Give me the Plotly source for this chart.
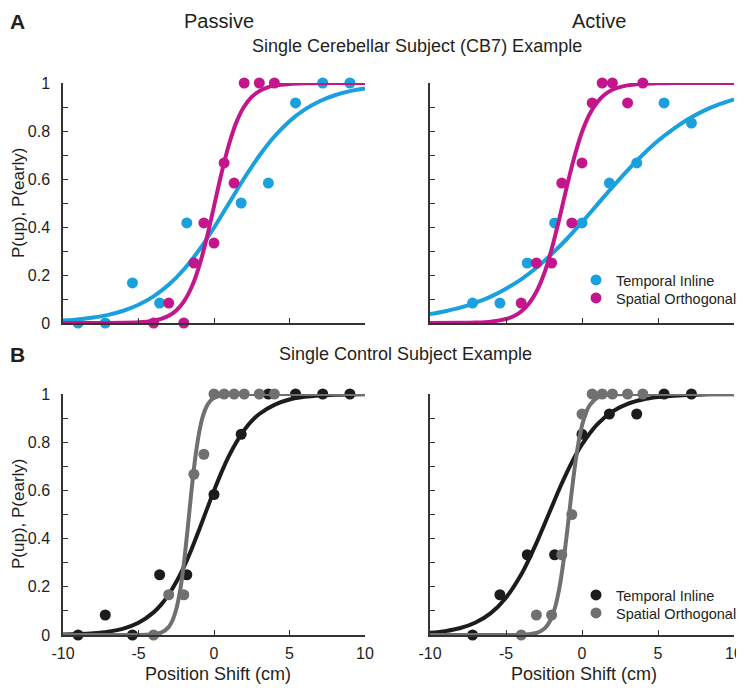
import plotly.graph_objects as go

FONT = "Liberation Sans, Arial, sans-serif"
TXT = "#231f20"
AX = "#333333"
BLUE = "#1aa0dc"
MAGENTA = "#c4168c"
BLACK = "#1c1c1c"
GRAY = "#707070"

# ---------------- data points (proportions) ----------------
cb_passive_temporal_x = [-9, -7.2, -5.4, -3.6, -1.8, 1.8, 3.6, 5.4, 7.2, 9]
cb_passive_temporal_y = [0, 0, 0.167, 0.083, 0.417, 0.5, 0.583, 0.917, 1, 1]
cb_passive_spatial_x = [-4, -3, -2, -1.33, -0.67, 0, 0.67, 1.33, 2, 3, 4]
cb_passive_spatial_y = [0, 0.083, 0, 0.25, 0.417, 0.333, 0.667, 0.583, 1, 1, 1]

cb_active_temporal_x = [-7.2, -5.4, -3.6, -1.8, 0, 1.8, 3.6, 5.4, 7.2]
cb_active_temporal_y = [0.083, 0.083, 0.25, 0.417, 0.417, 0.583, 0.667, 0.917, 0.833]
cb_active_spatial_x = [-4, -3, -2, -1.33, -0.67, 0, 0.67, 1.33, 2, 3, 4]
cb_active_spatial_y = [0.083, 0.25, 0.25, 0.583, 0.417, 0.667, 0.917, 1, 1, 0.917, 1]

ctl_passive_temporal_x = [-9, -7.2, -5.4, -3.6, -1.8, 0, 1.8, 3.6, 5.4, 7.2, 9]
ctl_passive_temporal_y = [0, 0.083, 0, 0.25, 0.25, 0.583, 0.833, 1, 1, 1, 1]
ctl_passive_spatial_x = [-4, -3, -2, -1.33, -0.67, 0, 0.67, 1.33, 2, 3, 4]
ctl_passive_spatial_y = [0, 0.167, 0.167, 0.667, 0.75, 1, 1, 1, 1, 1, 1]

ctl_active_temporal_x = [-7.2, -5.4, -3.6, -1.8, 0, 1.8, 3.6, 5.4, 7.2]
ctl_active_temporal_y = [0, 0.167, 0.333, 0.333, 0.833, 0.917, 0.917, 1, 1]
ctl_active_spatial_x = [-4, -3, -2, -1.33, -0.67, 0, 0.67, 1.33, 2, 3, 4]
ctl_active_spatial_y = [0, 0.083, 0.083, 0.333, 0.5, 0.917, 1, 1, 1, 1, 1]

# ---------------- fitted psychometric curves ----------------
cb_passive_temporal_fit_x = [-10, -9, -8, -7, -6, -5, -4, -3, -2, -1, 0, 1, 2, 3, 4, 5, 6, 7, 8, 9, 10]
cb_passive_temporal_fit_y = [0.010, 0.015, 0.023, 0.034, 0.051, 0.076, 0.111, 0.159, 0.223, 0.303, 0.397,
                             0.5, 0.603, 0.697, 0.777, 0.841, 0.889, 0.924, 0.949, 0.966, 0.977]
cb_passive_spatial_fit_x = [-10, -8, -6, -5, -4, -3.5, -3, -2.5, -2, -1.5, -1, -0.5, 0, 0.5, 1, 1.5, 2,
                            2.5, 3, 3.5, 4, 5, 6, 8, 10]
cb_passive_spatial_fit_y = [0.0, 0.0001, 0.001, 0.003, 0.010, 0.017, 0.030, 0.052, 0.089, 0.147, 0.233,
                            0.349, 0.486, 0.625, 0.746, 0.839, 0.902, 0.942, 0.966, 0.981, 0.989,
                            0.996, 0.9988, 0.9999, 1.0]

cb_active_temporal_fit_x = [-10, -9, -8, -7, -6, -5, -4, -3, -2, -1, 0, 1, 2, 3, 4, 5, 6, 7, 8, 9, 10]
cb_active_temporal_fit_y = [0.037, 0.049, 0.064, 0.085, 0.110, 0.143, 0.182, 0.230, 0.287, 0.350, 0.420,
                            0.493, 0.566, 0.636, 0.701, 0.759, 0.808, 0.850, 0.884, 0.911, 0.932]
cb_active_spatial_fit_x = [-10, -8, -7, -6, -5, -4.5, -4, -3.5, -3, -2.5, -2, -1.5, -1, -0.5, 0, 0.5, 1,
                           1.5, 2, 2.5, 3, 4, 5, 6, 8, 10]
cb_active_spatial_fit_y = [0.0001, 0.0006, 0.0019, 0.0057, 0.0167, 0.028, 0.048, 0.080, 0.130, 0.204,
                           0.307, 0.432, 0.568, 0.693, 0.796, 0.870, 0.920, 0.952, 0.972, 0.983,
                           0.990, 0.9967, 0.9989, 0.9996, 1.0, 1.0]

ctl_passive_temporal_fit_x = [-10, -9, -8, -7, -6, -5, -4, -3.5, -3, -2.5, -2, -1.5, -1, -0.5, 0, 0.5, 1,
                              1.5, 2, 2.5, 3, 4, 5, 6, 7, 8, 9, 10]
ctl_passive_temporal_fit_y = [0.0019, 0.0037, 0.0071, 0.0138, 0.0266, 0.0505, 0.094, 0.126, 0.168, 0.220,
                              0.282, 0.354, 0.434, 0.517, 0.599, 0.676, 0.744, 0.802, 0.850, 0.888,
                              0.917, 0.955, 0.977, 0.988, 0.994, 0.997, 0.9983, 0.9991]
ctl_passive_spatial_fit_x = [-10, -8, -6, -5, -4.5, -4, -3.5, -3, -2.75, -2.5, -2.25, -2, -1.75, -1.5,
                             -1.25, -1, -0.75, -0.5, -0.25, 0, 0.5, 1, 1.5, 2, 3, 4, 6, 8, 10]
ctl_passive_spatial_fit_y = [0.0, 0.0, 0.0, 0.0002, 0.0008, 0.0028, 0.0097, 0.033, 0.060, 0.107, 0.182,
                             0.294, 0.438, 0.593, 0.731, 0.835, 0.905, 0.947, 0.971, 0.984, 0.995,
                             0.9987, 0.9996, 1.0, 1.0, 1.0, 1.0, 1.0, 1.0]

ctl_active_temporal_fit_x = [-10, -9, -8, -7, -6, -5, -4, -3.5, -3, -2.5, -2, -1.5, -1, -0.5, 0, 1, 2, 3,
                             4, 5, 6, 7, 8, 9, 10]
ctl_active_temporal_fit_y = [0.0088, 0.016, 0.029, 0.052, 0.091, 0.155, 0.251, 0.313, 0.381, 0.455, 0.530,
                             0.605, 0.674, 0.737, 0.791, 0.874, 0.927, 0.959, 0.977, 0.987, 0.993,
                             0.996, 0.998, 0.9989, 0.9994]
ctl_active_spatial_fit_x = [-10, -8, -6, -5, -4.5, -4, -3.5, -3, -2.5, -2.25, -2, -1.75, -1.5, -1.25, -1,
                            -0.75, -0.5, -0.25, 0, 0.25, 0.5, 1, 1.5, 2, 3, 4, 6, 8, 10]
ctl_active_spatial_fit_y = [0.0, 0.0, 0.0, 0.0001, 0.0003, 0.0009, 0.0028, 0.0083, 0.025, 0.043, 0.072,
                            0.119, 0.191, 0.291, 0.417, 0.555, 0.685, 0.791, 0.869, 0.920, 0.953,
                            0.984, 0.995, 0.9982, 0.9998, 1.0, 1.0, 1.0, 1.0]

x_tick_vals = [-10, -5, 0, 5, 10]
x_tick_text = ["-10", "-5", "0", "5", "10"]
y_tick_vals = [0, 0.1, 0.2, 0.3, 0.4, 0.5, 0.6, 0.7, 0.8, 0.9, 1.0]
y_tick_text = ["0", "", "0.2", "", "0.4", "", "0.6", "", "0.8", "", "1"]

legend_names = ["Temporal Inline", "Spatial Orthogonal"]

# ---------------- figure ----------------
fig = go.Figure()
MS = 11
LW = 4


def add_panel(xa, ya, fits, points, colors, legends=None):
    legends = legends or [None, None]
    for (fx, fy), (px, py), col, name, lg in zip(fits, points, colors, legend_names, legends):
        fig.add_trace(go.Scatter(x=fx, y=fy, mode="lines", line=dict(color=col, width=LW, shape="spline",
                                 smoothing=0.8), xaxis=xa, yaxis=ya, showlegend=False, cliponaxis=False,
                                 hoverinfo="skip"))
        kw = dict(legend=lg) if lg else {}
        fig.add_trace(go.Scatter(x=px, y=py, mode="markers", marker=dict(color=col, size=MS), name=name,
                                 xaxis=xa, yaxis=ya, showlegend=lg is not None, cliponaxis=False, **kw))


add_panel("x", "y",
          [(cb_passive_temporal_fit_x, cb_passive_temporal_fit_y), (cb_passive_spatial_fit_x, cb_passive_spatial_fit_y)],
          [(cb_passive_temporal_x, cb_passive_temporal_y), (cb_passive_spatial_x, cb_passive_spatial_y)],
          [BLUE, MAGENTA])
add_panel("x2", "y2",
          [(cb_active_temporal_fit_x, cb_active_temporal_fit_y), (cb_active_spatial_fit_x, cb_active_spatial_fit_y)],
          [(cb_active_temporal_x, cb_active_temporal_y), (cb_active_spatial_x, cb_active_spatial_y)],
          [BLUE, MAGENTA], legends=["legend", "legend2"])
add_panel("x3", "y3",
          [(ctl_passive_temporal_fit_x, ctl_passive_temporal_fit_y), (ctl_passive_spatial_fit_x, ctl_passive_spatial_fit_y)],
          [(ctl_passive_temporal_x, ctl_passive_temporal_y), (ctl_passive_spatial_x, ctl_passive_spatial_y)],
          [BLACK, GRAY])
add_panel("x4", "y4",
          [(ctl_active_temporal_fit_x, ctl_active_temporal_fit_y), (ctl_active_spatial_fit_x, ctl_active_spatial_fit_y)],
          [(ctl_active_temporal_x, ctl_active_temporal_y), (ctl_active_spatial_x, ctl_active_spatial_y)],
          [BLACK, GRAY], legends=["legend3", "legend4"])

# the page body has an 8px margin, so the figure is drawn 8px in from the window corner
OFF = 8
W, H = 744 - OFF, 688 - OFF


def px2x(p):
    return (p - OFF) / W


def px2y(p):
    return 1 - (p - OFF) / H


common = dict(showline=True, linecolor=AX, linewidth=1.5, ticks="inside", ticklen=5, tickwidth=1.2,
              tickcolor=AX, showgrid=False, zeroline=False, tickfont=dict(family=FONT, size=16, color=TXT),
              fixedrange=True, automargin=False)

left_dom = [px2x(63), px2x(365)]
right_dom = [px2x(430), px2x(734)]
top_dom = [px2y(323), px2y(83)]
bot_dom = [px2y(635), px2y(394)]

for i, (xd, yd, xl, yl) in enumerate([(left_dom, top_dom, False, True), (right_dom, top_dom, False, False),
                                      (left_dom, bot_dom, True, True), (right_dom, bot_dom, True, False)]):
    sfx = "" if i == 0 else str(i + 1)
    fig.layout["xaxis" + sfx] = dict(domain=xd, range=[-10, 10], tickvals=x_tick_vals, ticktext=x_tick_text,
                                     showticklabels=xl, anchor="y" + sfx, ticklabelstandoff=3, **common)
    fig.layout["yaxis" + sfx] = dict(domain=yd, range=[0, 1], tickvals=y_tick_vals, ticktext=y_tick_text,
                                     showticklabels=yl, anchor="x" + sfx, ticklabelstandoff=8, **common)

ann = []


def text(x, y, s, size, bold=False, angle=0, anchor="center"):
    ann.append(dict(x=px2x(x), y=px2y(y), xref="paper", yref="paper", text=f"<b>{s}</b>" if bold else s,
                    showarrow=False, xanchor=anchor, yanchor="middle", textangle=angle,
                    font=dict(family=FONT, size=size, color=TXT)))


text(8, 21, "A", 21, bold=True, anchor="left")
text(8, 354, "B", 21, bold=True, anchor="left")
text(219, 21, "Passive", 20)
text(599, 21, "Active", 20)
text(417, 46, "Single Cerebellar Subject (CB7) Example", 18)
text(405, 354, "Single Control Subject Example", 18)
text(18, 203, "P(up), P(early)", 17, angle=-90)
text(18, 514, "P(up), P(early)", 17, angle=-90)
text(218, 674, "Position Shift (cm)", 18)
text(584, 674, "Position Shift (cm)", 18)

leg_common = dict(xanchor="left", yanchor="middle", bgcolor="rgba(0,0,0,0)", borderwidth=0, itemwidth=30,
                  font=dict(family=FONT, size=14.5, color=TXT))
LEG_X = 576
fig.update_layout(
    width=W, height=H, autosize=False, margin=dict(l=0, r=0, t=0, b=0, pad=0),
    paper_bgcolor="white", plot_bgcolor="white", annotations=ann,
    legend=dict(x=px2x(LEG_X), y=px2y(280), **leg_common),
    legend2=dict(x=px2x(LEG_X), y=px2y(298), **leg_common),
    legend3=dict(x=px2x(LEG_X), y=px2y(595), **leg_common),
    legend4=dict(x=px2x(LEG_X), y=px2y(613), **leg_common),
    font=dict(family=FONT, color=TXT),
)

fig.write_html("out.html")
